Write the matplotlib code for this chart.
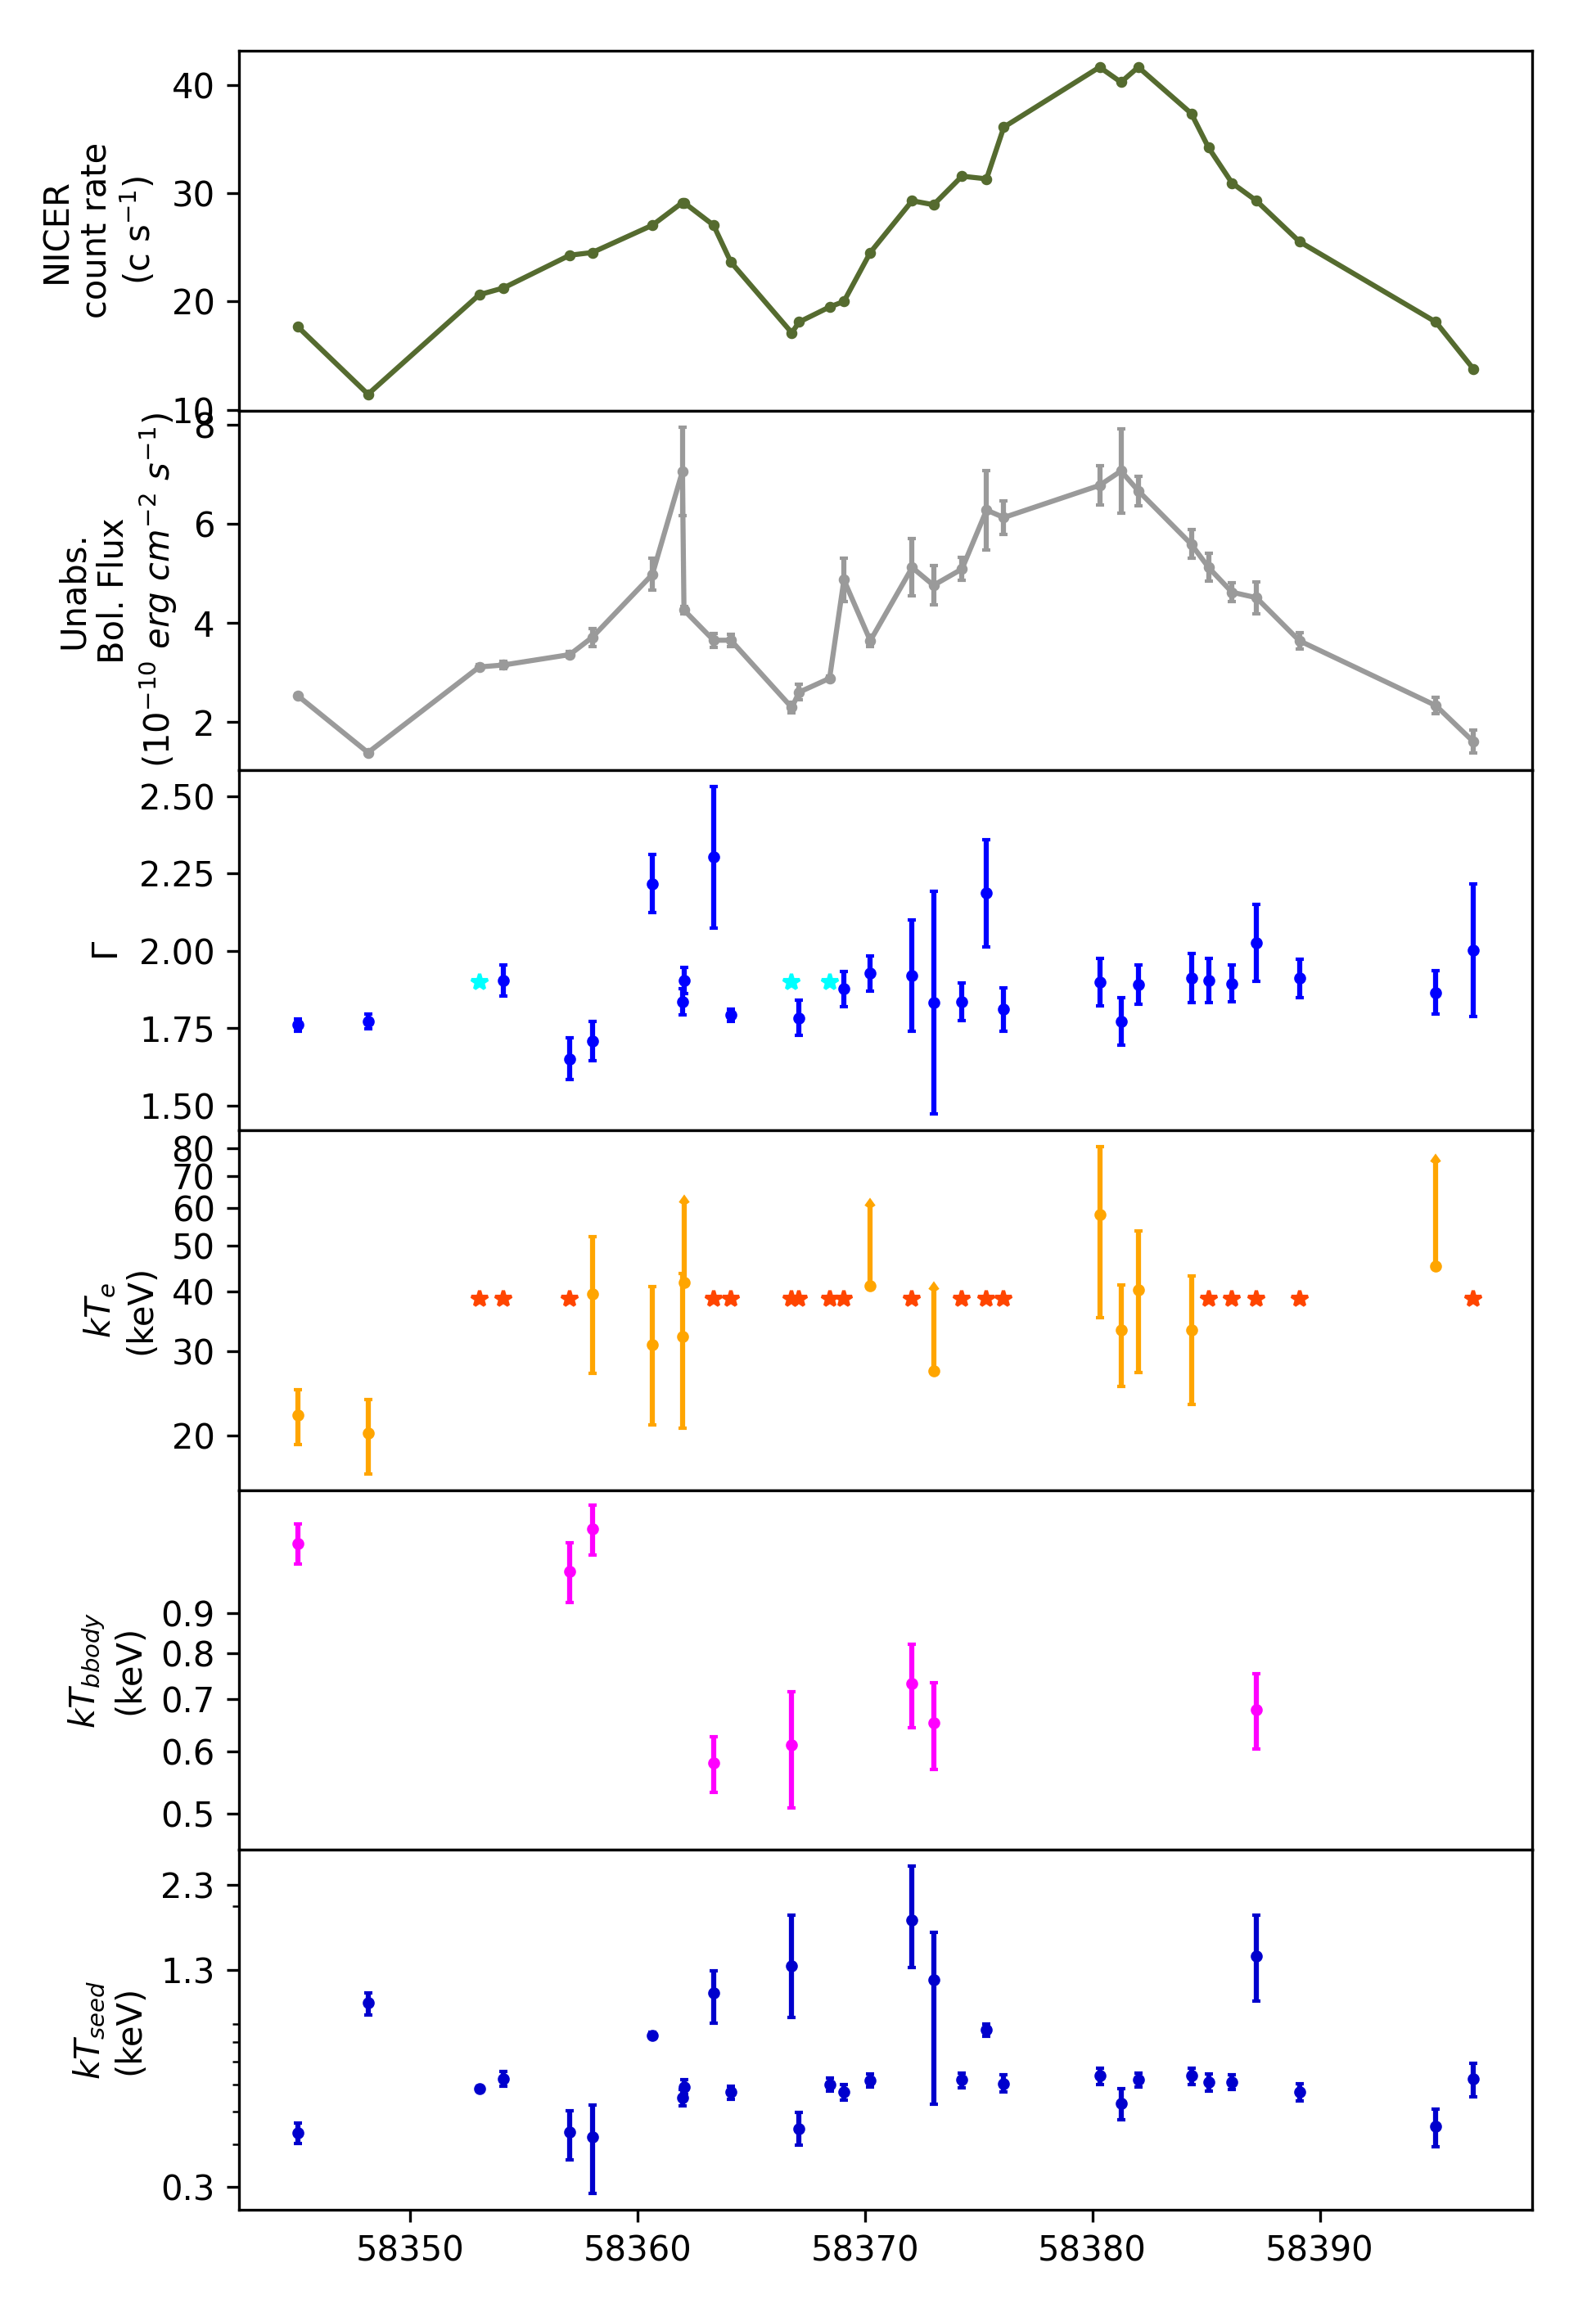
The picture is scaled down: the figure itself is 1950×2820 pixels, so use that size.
import numpy as np
import matplotlib.pyplot as plt
from matplotlib.ticker import NullFormatter

# MJD of each observation
mjd = [58345.07, 58348.16, 58353.05, 58354.12, 58357.03, 58358.02, 58360.66,
       58361.98, 58362.05, 58363.35, 58364.11, 58366.79, 58367.11, 58368.45,
       58369.08, 58370.24, 58372.08, 58373.02, 58374.27, 58375.35, 58376.11,
       58380.32, 58381.26, 58382.02, 58384.35, 58385.11, 58386.14, 58387.21,
       58389.10, 58395.10, 58396.75]

# NICER count rate (c/s)
rate = [17.67, 11.43, 20.62, 21.25, 24.27, 24.52, 27.04, 29.13, 29.13, 27.04,
        23.64, 17.10, 18.10, 19.49, 20.00, 24.52, 29.30, 28.93, 31.57, 31.32,
        36.10, 41.64, 40.25, 41.64, 37.36, 34.20, 30.94, 29.30, 25.53, 18.10,
        13.77]

# unabsorbed bolometric flux (1e-10 erg/cm2/s)
flux = [2.53, 1.38, 3.11, 3.15, 3.36, 3.71, 4.98, 7.06, 4.26, 3.65, 3.65,
        2.29, 2.60, 2.88, 4.87, 3.64, 5.12, 4.76, 5.09, 6.28, 6.13, 6.78,
        7.07, 6.67, 5.59, 5.12, 4.62, 4.51, 3.64, 2.33, 1.60]
flux_err = [0.03, 0.03, 0.04, 0.07, 0.06, 0.18, 0.32, 0.90, 0.08, 0.14, 0.12,
            0.10, 0.16, 0.05, 0.44, 0.12, 0.58, 0.40, 0.23, 0.80, 0.34, 0.40,
            0.85, 0.30, 0.29, 0.28, 0.19, 0.32, 0.16, 0.17, 0.23]

# photon index; entries in gamma_fixed were frozen at 1.9
gamma = [1.761, 1.772, 1.90, 1.905, 1.651, 1.708, 2.217, 1.835, 1.904, 2.303,
         1.792, 1.90, 1.783, 1.90, 1.877, 1.927, 1.921, 1.833, 1.835, 2.187,
         1.811, 1.899, 1.772, 1.892, 1.912, 1.904, 1.895, 2.026, 1.912, 1.866,
         2.003]
gamma_err = [0.020, 0.023, 0.0, 0.050, 0.068, 0.063, 0.094, 0.042, 0.042,
             0.228, 0.020, 0.0, 0.057, 0.0, 0.057, 0.057, 0.180, 0.360, 0.061,
             0.173, 0.070, 0.077, 0.077, 0.064, 0.079, 0.072, 0.059, 0.124,
             0.062, 0.071, 0.214]
gamma_fixed = [2, 11, 13]

# electron temperature (keV); the other observations had kTe frozen
kte_idx = [0, 1, 5, 6, 7, 8, 15, 17, 21, 22, 23, 24, 29]
kte = [22.0, 20.2, 39.6, 31.0, 32.2, 41.9, 41.1, 27.3, 58.0, 33.3, 40.4, 33.2, 45.2]
kte_err = [2.9, 3.6, 12.6, 10.0, 11.5, 19.4, 19.3, 13.0, 22.7, 8.0, 13.3, 10.0, 29.7]
kte_lolim = [False, False, False, False, False, True, True, True,
             False, False, False, False, True]
kte_frozen = 38.7

# blackbody temperature (keV)
bb_idx = [0, 4, 5, 9, 11, 16, 17, 27]
kt_bb = [1.104, 1.017, 1.151, 0.580, 0.612, 0.732, 0.652, 0.679]
kt_bb_err = [0.064, 0.088, 0.084, 0.047, 0.103, 0.089, 0.082, 0.074]

# seed photon temperature (keV), asymmetric errors
seed = [0.433, 1.040, 0.583, 0.624, 0.435, 0.420, 0.837, 0.549, 0.591, 1.112,
        0.569, 1.334, 0.446, 0.600, 0.569, 0.616, 1.818, 1.217, 0.618, 0.867,
        0.604, 0.636, 0.528, 0.619, 0.636, 0.610, 0.609, 1.423, 0.569, 0.452,
        0.622]
seed_lo = [0.031, 0.084, 0.010, 0.030, 0.074, 0.132, 0.015, 0.030, 0.030,
           0.207, 0.025, 0.392, 0.048, 0.025, 0.030, 0.027, 0.502, 0.691,
           0.030, 0.035, 0.035, 0.035, 0.055, 0.030, 0.035, 0.035, 0.030,
           0.368, 0.033, 0.057, 0.069]
seed_hi = [0.029, 0.072, 0.010, 0.029, 0.068, 0.103, 0.015, 0.030, 0.030,
           0.179, 0.025, 0.546, 0.050, 0.025, 0.030, 0.027, 0.794, 0.454,
           0.030, 0.035, 0.035, 0.035, 0.055, 0.030, 0.035, 0.035, 0.030,
           0.457, 0.033, 0.057, 0.070]

t = np.array(mjd)
eb = dict(capsize=1.2, capthick=1, elinewidth=1.5, markersize=5)

fig, axs = plt.subplots(6, 1, sharex=True, figsize=(6.5, 9.4), dpi=300)
plt.subplots_adjust(left=0.1497, right=0.96, bottom=0.0426, top=0.978, hspace=0)

# count rate
axs[0].plot(t, rate, '.-', color='darkolivegreen', markersize=4.5)
axs[0].set_ylabel('NICER\ncount rate\n(c s$^{-1}$)')

# flux
axs[1].errorbar(t, flux, yerr=flux_err, fmt='.-', color='#9a9a9a',
                capsize=1.2, capthick=1, elinewidth=1.5, markersize=4.5)
axs[1].set_ylabel('Unabs.\nBol. Flux\n($10^{-10}$ $erg\\ cm^{-2}\\ s^{-1}$)')

# gamma
g = np.array(gamma)
ge = np.array(gamma_err)
free = np.ones(len(g), bool)
free[gamma_fixed] = False
axs[2].errorbar(t[free], g[free], yerr=ge[free], fmt='.', color='blue', **eb)
axs[2].plot(t[~free], g[~free], '*', color='cyan', markersize=5)
axs[2].set_ylabel(r'$\Gamma$')

# kTe
frozen = np.setdiff1d(np.arange(len(t)), kte_idx)
axs[3].errorbar(t[kte_idx], kte, yerr=kte_err, lolims=np.array(kte_lolim),
                fmt='.', color='orange', **eb)
axs[3].plot(t[frozen], np.full(len(frozen), kte_frozen), '*',
            color='orangered', markersize=5)
axs[3].set_yscale('log')
axs[3].set_yticks([20, 30, 40, 50, 60, 70, 80], ['20', '30', '40', '50', '60', '70', '80'])
axs[3].yaxis.set_minor_formatter(NullFormatter())
axs[3].set_ylabel('$kT_e$\n(keV)')

# kT bbody
axs[4].errorbar(t[bb_idx], kt_bb, yerr=kt_bb_err, fmt='.', color='magenta', **eb)
axs[4].set_yscale('log')
axs[4].set_yticks([0.5, 0.6, 0.7, 0.8, 0.9], ['0.5', '0.6', '0.7', '0.8', '0.9'])
axs[4].yaxis.set_minor_formatter(NullFormatter())
axs[4].set_ylim(0.45, 1.29)
axs[4].set_ylabel('$kT_{bbody}$\n(keV)')

# kT seed
axs[5].errorbar(t, seed, yerr=[seed_lo, seed_hi], fmt='.', color='mediumblue', **eb)
axs[5].set_yscale('log')
axs[5].set_yticks([0.3, 1.3, 2.3], ['0.3', '1.3', '2.3'])
axs[5].yaxis.set_minor_formatter(NullFormatter())
axs[5].set_ylabel('$kT_{seed}$\n(keV)')

plt.savefig('out.png', dpi=300)
